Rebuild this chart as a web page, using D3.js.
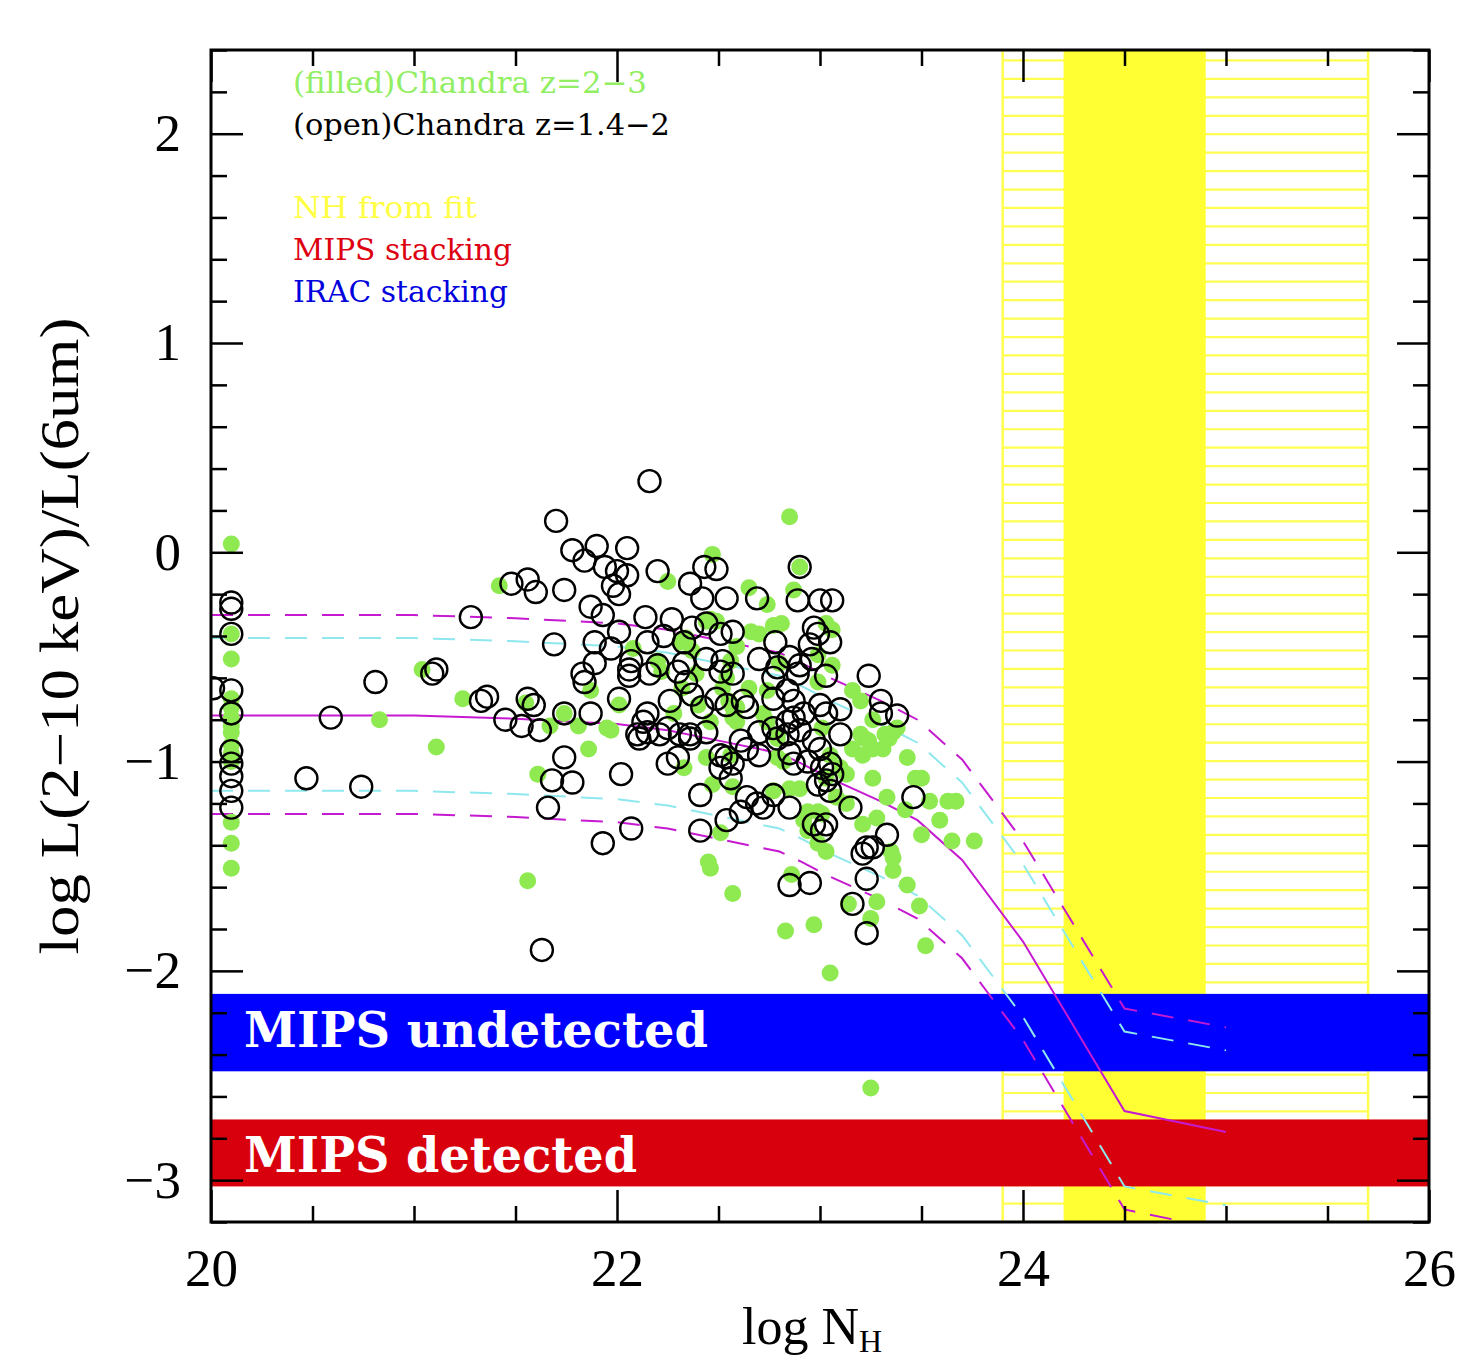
<!DOCTYPE html>
<html>
<head>
<meta charset="utf-8">
<script src="https://cdn.jsdelivr.net/npm/d3@7/dist/d3.min.js"></script>
<style>
  body { margin: 0; background: #fff; }
  text { font-family: "Liberation Serif", "DejaVu Serif", serif; }
</style>
</head>
<body>
<svg id="chart"></svg>
<script>
// open circles: Chandra z=1.4-2  [log NH, log Lx/L6um]
const openPts = [
  [20.10,-0.24],[20.10,-0.27],[20.10,-0.39],[20.10,-0.66],[20.10,-0.77],[20.10,-0.95],[20.10,-1.01],[20.10,-1.07],[20.10,-1.14],[20.10,-1.22],[20.01,-0.65],
  [20.59,-0.79],[20.47,-1.08],[20.74,-1.12],[20.81,-0.62],[21.09,-0.58],[21.11,-0.56],[21.28,-0.31],[21.33,-0.71],[21.36,-0.69],[21.45,-0.80],[21.53,-0.83],
  [21.56,-0.70],[21.59,-0.73],[21.62,-0.85],[21.48,-0.15],[21.56,-0.13],[21.60,-0.19],[21.74,-0.18],[21.70,0.15],[21.78,0.01],[21.90,0.03],[21.84,-0.04],
  [21.94,-0.07],[21.69,-0.44],[21.87,-0.26],[21.93,-0.30],[21.89,-0.43],[21.89,-0.53],[21.83,-0.58],[21.84,-0.62],[21.74,-0.77],[21.87,-0.77],[21.74,-0.98],
  [21.68,-1.09],[21.78,-1.10],[21.66,-1.22],[21.93,-1.39],[21.63,-1.90],
  [22.16,0.34],[22.05,0.02],[22.00,-0.09],[22.05,-0.11],[21.98,-0.16],[22.20,-0.09],[22.01,-0.20],[22.14,-0.31],[22.27,-0.32],[22.36,-0.15],[22.43,-0.07],
  [22.49,-0.08],[22.42,-0.22],[22.54,-0.22],[22.01,-0.38],[22.07,-0.52],[22.06,-0.56],[22.15,-0.43],[22.23,-0.40],[22.33,-0.43],[22.44,-0.34],[22.51,-0.39],
  [22.30,-0.57],[22.34,-0.62],[22.52,-0.52],[22.70,-0.51],[22.15,-0.77],[22.13,-0.81],[22.25,-0.84],[22.36,-0.87],[22.01,-0.70],[22.11,-0.89],
  [22.90,-0.07],[22.69,-0.22],[22.89,-0.23],[23.00,-0.23],[23.06,-0.23],[22.57,-0.38],[22.78,-0.43],[22.97,-0.36],[21.97,-0.46],[22.33,-0.53],[22.44,-0.51],
  [22.20,-0.54],[22.06,-0.59],[22.51,-0.57],[22.57,-0.58],[22.79,-0.55],[22.84,-0.66],[22.90,-0.54],[22.96,-0.51],[22.99,-0.39],[23.05,-0.43],[23.24,-0.59],
  [23.00,-0.73],[23.10,-0.75],[23.38,-0.78],[23.30,-0.77],[22.10,-0.87],[22.21,-0.87],[22.31,-0.87],[22.36,-0.89],[22.42,-0.74],[22.54,-0.73],[22.64,-0.74],
  [22.77,-0.84],[22.84,-0.81],[22.84,-0.87],[22.90,-0.85],[22.92,-0.77],[22.97,-0.90],[23.00,-0.94],[22.54,-0.98],[22.64,-0.94],[22.70,-0.97],[22.85,-0.96],
  [22.87,-1.01],[22.94,-1.00],[23.05,-1.01],[23.06,-1.06],[22.57,-1.01],[22.30,-0.98],[22.02,-1.06],[22.41,-1.16],[22.51,-1.03],[22.64,-1.17],[22.69,-1.20],
  [22.72,-1.22],[22.61,-1.24],[22.54,-1.28],[22.99,-1.11],[23.05,-1.14],[22.97,-1.30],[23.01,-1.33],[23.03,-1.30],[23.15,-1.22],[23.23,-1.41],[23.21,-1.44],
  [23.26,-1.41],[23.33,-1.35],[23.23,-1.56],[23.16,-1.68],[23.23,-1.82],[22.85,-1.59],[22.95,-1.58],[22.41,-1.33],[22.07,-1.32],[23.46,-1.17],[23.30,-0.71],
  [22.37,-0.36],[22.95,-0.44],[22.85,-0.50],[22.16,-0.58],[22.77,-0.60],[22.89,-0.58],[23.03,-0.59],[22.26,-0.71],[22.37,-0.68],[22.49,-0.70],[22.62,-0.71],
  [22.77,-0.70],[22.87,-0.71],[22.87,-0.79],[23.03,-0.77],[22.15,-0.86],[22.44,-0.86],[22.61,-0.90],[22.70,-0.86],[22.79,-0.89],[23.10,-0.87],[22.25,-1.01],
  [22.51,-0.97],[23.01,-1.03],[22.56,-1.08],[22.77,-1.16],[22.85,-1.22],[23.03,-1.09]
];

// filled circles: Chandra z=2-3
const filledPts = [
  [20.10,0.04],[20.10,-0.39],[20.10,-0.51],[20.10,-0.70],[20.10,-0.74],[20.10,-0.79],[20.10,-0.83],[20.10,-0.86],[20.10,-0.92],[20.10,-0.96],[20.10,-1.00],
  [20.10,-1.29],[20.10,-1.39],[20.10,-1.51],
  [21.04,-0.56],[20.83,-0.80],[21.11,-0.93],[21.24,-0.70],[21.55,-0.72],[21.42,-0.16],[21.87,-0.66],[21.74,-0.77],[21.67,-0.83],[21.81,-0.83],[21.86,-0.94],
  [21.61,-1.06],[21.56,-1.57],[21.95,-0.84],
  [22.47,-0.01],[22.25,-0.14],[22.65,-0.17],[22.74,-0.25],[22.08,-0.46],[22.34,-0.41],[22.37,-0.47],[22.31,-0.43],[22.44,-0.33],[22.49,-0.33],[22.20,-0.52],
  [22.22,-0.57],[22.32,-0.65],[22.39,-0.58],[22.54,-0.60],[22.56,-0.52],[22.52,-0.65],[22.65,-0.65],[22.66,-0.38],[22.70,-0.39],[22.77,-0.35],[22.74,-0.66],
  [22.57,-0.74],[22.57,-0.79],[22.46,-0.81],[22.28,-0.77],[22.40,-0.73],[22.01,-0.73],[21.97,-0.85],[22.79,-0.89],
  [22.85,0.17],[22.90,-0.07],[22.87,-0.18],[22.46,-0.32],[22.81,-0.34],[23.03,-0.34],[23.06,-0.37],[22.80,-0.53],[22.99,-0.49],[22.99,-0.62],[23.06,-0.54],
  [23.16,-0.66],[23.20,-0.71],[23.26,-0.80],[22.55,-0.71],[22.59,-0.74],[22.59,-0.81],[22.72,-0.77],[22.74,-0.81],[22.79,-0.87],[23.01,-0.84],[23.05,-0.97],
  [23.20,-0.87],[23.22,-0.89],[23.24,-0.90],[23.16,-0.94],[23.21,-0.97],[23.26,-0.94],[23.31,-0.94],[23.34,-0.89],[23.36,-0.86],[23.38,-0.84],[23.32,-0.87],
  [23.43,-0.98],[22.79,-0.98],[23.10,-1.03],[23.03,-1.08],[23.13,-1.06],[22.33,-1.03],[22.44,-0.98],[22.56,-0.97],[22.47,-1.11],[22.57,-1.12],[22.51,-1.34],
  [22.77,-1.14],[22.85,-1.13],[22.90,-1.13],[22.94,-1.24],[22.99,-1.24],[23.01,-1.25],[22.92,-1.28],[22.94,-1.33],[22.99,-1.39],[23.03,-1.43],[23.08,-1.17],
  [23.13,-1.20],[23.21,-1.30],[23.28,-1.27],[23.35,-1.43],[23.36,-1.46],[23.36,-1.52],[23.14,-1.68],[23.28,-1.67],[23.25,-1.75],[23.43,-1.59],[23.49,-1.69],
  [23.52,-1.88],[22.83,-1.81],[22.97,-1.78],[23.05,-2.01],[22.86,-1.54],[22.57,-1.63],[22.45,-1.48],[22.46,-1.51],[23.47,-1.08],[23.50,-1.08],[23.54,-1.19],
  [23.63,-1.19],[23.67,-1.19],[23.59,-1.28],[23.65,-1.38],[23.76,-1.38],[23.50,-1.35],[23.33,-1.17],[23.42,-1.23],[23.25,-2.56],
  [22.59,-0.45],[22.82,-1.00],[23.26,-1.08]
];

// model curves (log NH grid and the five tracks)
const curveNH = [20, 21, 21.5, 22, 22.25, 22.5, 22.8, 22.9, 23.05, 23.3, 23.48, 23.7, 24.0, 24.5, 25.0];
const curveMid = [-0.78, -0.78, -0.795, -0.82, -0.85, -0.90, -0.96, -1.005, -1.08, -1.19, -1.28, -1.47, -1.86, -2.67, -2.77];
const curveHiMips = [-0.30, -0.30, -0.315, -0.34, -0.37, -0.42, -0.48, -0.525, -0.60, -0.71, -0.80, -0.99, -1.38, -2.18, -2.27];
const curveHiIrac = [-0.41, -0.41, -0.425, -0.45, -0.48, -0.53, -0.59, -0.635, -0.71, -0.82, -0.91, -1.10, -1.49, -2.29, -2.38];
const curveLoIrac = [-1.14, -1.14, -1.155, -1.18, -1.21, -1.26, -1.32, -1.365, -1.44, -1.55, -1.64, -1.83, -2.22, -3.03, -3.12];
const curveLoMips = [-1.25, -1.25, -1.265, -1.29, -1.32, -1.37, -1.43, -1.475, -1.55, -1.66, -1.75, -1.94, -2.33, -3.14, -3.24];

// NH from fit: hatched range and solid range
const nhHatch = [23.90, 25.70];
const nhSolid = [24.20, 24.90];

// stacking bands (y ranges)
const bandUndet = [-2.48, -2.11];
const bandDet = [-3.03, -2.71];

const xMajor = [20, 22, 24, 26];
const yMajor = [-3, -2, -1, 0, 1, 2];

const W = 1463, H = 1358;
const m = { left: 211, top: 50, right: 34, bottom: 136 };
const pw = W - m.left - m.right, ph = H - m.top - m.bottom;

const svg = d3.select('#chart').attr('width', W).attr('height', H);
svg.append('rect').attr('width', W).attr('height', H).attr('fill', '#fff');

const x = d3.scaleLinear().domain([20, 26]).range([m.left, m.left + pw]);
const y = d3.scaleLinear().domain([-3.2, 2.4]).range([m.top + ph, m.top]);

svg.append('clipPath').attr('id', 'clip')
  .append('rect').attr('x', m.left).attr('y', m.top).attr('width', pw).attr('height', ph);

const plot = svg.append('g').attr('clip-path', 'url(#clip)');

// hatched NH region
const hatchYs = d3.range(63).map(i => 2.35 - i * 0.0881);
const hatch = plot.append('g');
hatch.selectAll('line').data(hatchYs).enter().append('line')
  .attr('x1', x(nhHatch[0])).attr('x2', x(nhHatch[1]))
  .attr('y1', d => y(d)).attr('y2', d => y(d))
  .attr('stroke', '#ffff50').attr('stroke-width', 2.2);
hatch.append('rect')
  .attr('x', x(nhHatch[0])).attr('y', y(2.4))
  .attr('width', x(nhHatch[1]) - x(nhHatch[0])).attr('height', y(-3.2) - y(2.4))
  .attr('fill', 'none').attr('stroke', '#ffff50').attr('stroke-width', 2.5);

plot.append('rect')
  .attr('x', x(nhSolid[0])).attr('y', y(2.4))
  .attr('width', x(nhSolid[1]) - x(nhSolid[0])).attr('height', y(-3.2) - y(2.4))
  .attr('fill', '#ffff33');

// stacking bands
plot.append('rect')
  .attr('x', x(20)).attr('y', y(bandUndet[1]))
  .attr('width', pw).attr('height', y(bandUndet[0]) - y(bandUndet[1]))
  .attr('fill', '#0000ff');
plot.append('rect')
  .attr('x', x(20)).attr('y', y(bandDet[1]))
  .attr('width', pw).attr('height', y(bandDet[0]) - y(bandDet[1]))
  .attr('fill', '#d9000d');

svg.append('text').attr('x', 244).attr('y', y(bandUndet[0]) - 24)
  .attr('fill', '#fff').attr('font-size', 48).attr('font-weight', 'bold')
  .style('font-family', '"DejaVu Serif", serif')
  .attr('textLength', 464).attr('lengthAdjust', 'spacingAndGlyphs')
  .text('MIPS undetected');
svg.append('text').attr('x', 244).attr('y', y(bandDet[0]) - 14)
  .attr('fill', '#fff').attr('font-size', 48).attr('font-weight', 'bold')
  .style('font-family', '"DejaVu Serif", serif')
  .attr('textLength', 393).attr('lengthAdjust', 'spacingAndGlyphs')
  .text('MIPS detected');

// model curves
const line = vals => d3.line().x((d, i) => x(curveNH[i])).y(d => y(d))(vals);
const curves = [
  { v: curveHiIrac, c: '#8ee8ee', dash: '22,15', w: 2 },
  { v: curveLoIrac, c: '#8ee8ee', dash: '22,15', w: 2 },
  { v: curveHiMips, c: '#c51ad0', dash: '22,15', w: 2 },
  { v: curveLoMips, c: '#c51ad0', dash: '22,15', w: 2 },
  { v: curveMid, c: '#c51ad0', dash: null, w: 2 }
];
curves.forEach(cv => {
  plot.append('path').attr('d', line(cv.v))
    .attr('fill', 'none').attr('stroke', cv.c).attr('stroke-width', cv.w)
    .attr('stroke-dasharray', cv.dash);
});

// points
plot.append('g').selectAll('circle').data(filledPts).enter().append('circle')
  .attr('cx', d => x(d[0])).attr('cy', d => y(d[1])).attr('r', 8.5)
  .attr('fill', '#8fea52');
plot.append('g').selectAll('circle').data(openPts).enter().append('circle')
  .attr('cx', d => x(d[0])).attr('cy', d => y(d[1])).attr('r', 11)
  .attr('fill', 'none').attr('stroke', '#000').attr('stroke-width', 2.4);

// frame
svg.append('rect').attr('x', m.left).attr('y', m.top).attr('width', pw).attr('height', ph)
  .attr('fill', 'none').attr('stroke', '#000').attr('stroke-width', 3);

// ticks
const xMinor = d3.range(20, 26.01, 0.5).filter(v => !xMajor.includes(v));
const yMinor = d3.range(-3.2, 2.41, 0.2).map(v => +v.toFixed(1)).filter(v => !yMajor.includes(v));
const fmt = d => d < 0 ? '\u2212' + Math.abs(d) : String(d);

function axisStyle(g) {
  g.select('.domain').remove();
  g.selectAll('line').attr('stroke', '#000').attr('stroke-width', 2.5);
  g.selectAll('text').attr('font-size', 53).attr('fill', '#000')
    .style('font-family', '"Liberation Serif", serif');
}

svg.append('g').attr('transform', `translate(0,${m.top + ph})`)
  .call(d3.axisBottom(x).tickValues(xMajor).tickSize(-32).tickPadding(26).tickFormat(fmt)).call(axisStyle);
svg.append('g').attr('transform', `translate(0,${m.top + ph})`)
  .call(d3.axisBottom(x).tickValues(xMinor).tickSize(-16).tickFormat('')).call(axisStyle);
svg.append('g').attr('transform', `translate(0,${m.top})`)
  .call(d3.axisTop(x).tickValues(xMajor).tickSize(-32).tickFormat('')).call(axisStyle);
svg.append('g').attr('transform', `translate(0,${m.top})`)
  .call(d3.axisTop(x).tickValues(xMinor).tickSize(-16).tickFormat('')).call(axisStyle);

svg.append('g').attr('transform', `translate(${m.left},0)`)
  .call(d3.axisLeft(y).tickValues(yMajor).tickSize(-32).tickPadding(30).tickFormat(fmt)).call(axisStyle);
svg.append('g').attr('transform', `translate(${m.left},0)`)
  .call(d3.axisLeft(y).tickValues(yMinor).tickSize(-16).tickFormat('')).call(axisStyle);
svg.append('g').attr('transform', `translate(${m.left + pw},0)`)
  .call(d3.axisRight(y).tickValues(yMajor).tickSize(-32).tickFormat('')).call(axisStyle);
svg.append('g').attr('transform', `translate(${m.left + pw},0)`)
  .call(d3.axisRight(y).tickValues(yMinor).tickSize(-16).tickFormat('')).call(axisStyle);

// axis titles
const xt = svg.append('text').attr('x', 742).attr('y', 1344).attr('font-size', 52).attr('fill', '#000');
xt.append('tspan').text('log  N');
xt.append('tspan').attr('dy', 8).attr('font-size', 32).text('H');

svg.append('text').attr('transform', 'translate(78,636) rotate(-90)')
  .attr('text-anchor', 'middle').attr('font-size', 54).attr('fill', '#000')
  .attr('textLength', 637).attr('lengthAdjust', 'spacingAndGlyphs')
  .text('log  L(2\u221210  keV)/L(6um)');

// legend
const legend = [
  { t: '(filled)Chandra z=2\u22123', c: '#92ee62', y: 93, w: 354 },
  { t: '(open)Chandra z=1.4\u22122', c: '#000', y: 135, w: 377 },
  { t: 'NH from fit', c: '#ffff44', y: 218, w: 184 },
  { t: 'MIPS stacking', c: '#dd0010', y: 260, w: 219 },
  { t: 'IRAC stacking', c: '#0000dd', y: 302, w: 215 }
];
svg.append('g').selectAll('text').data(legend).enter().append('text')
  .attr('x', 293).attr('y', d => d.y).attr('fill', d => d.c)
  .attr('font-size', 30).style('font-family', '"DejaVu Serif", serif')
  .attr('textLength', d => d.w).attr('lengthAdjust', 'spacingAndGlyphs')
  .text(d => d.t);
</script>
</body>
</html>
